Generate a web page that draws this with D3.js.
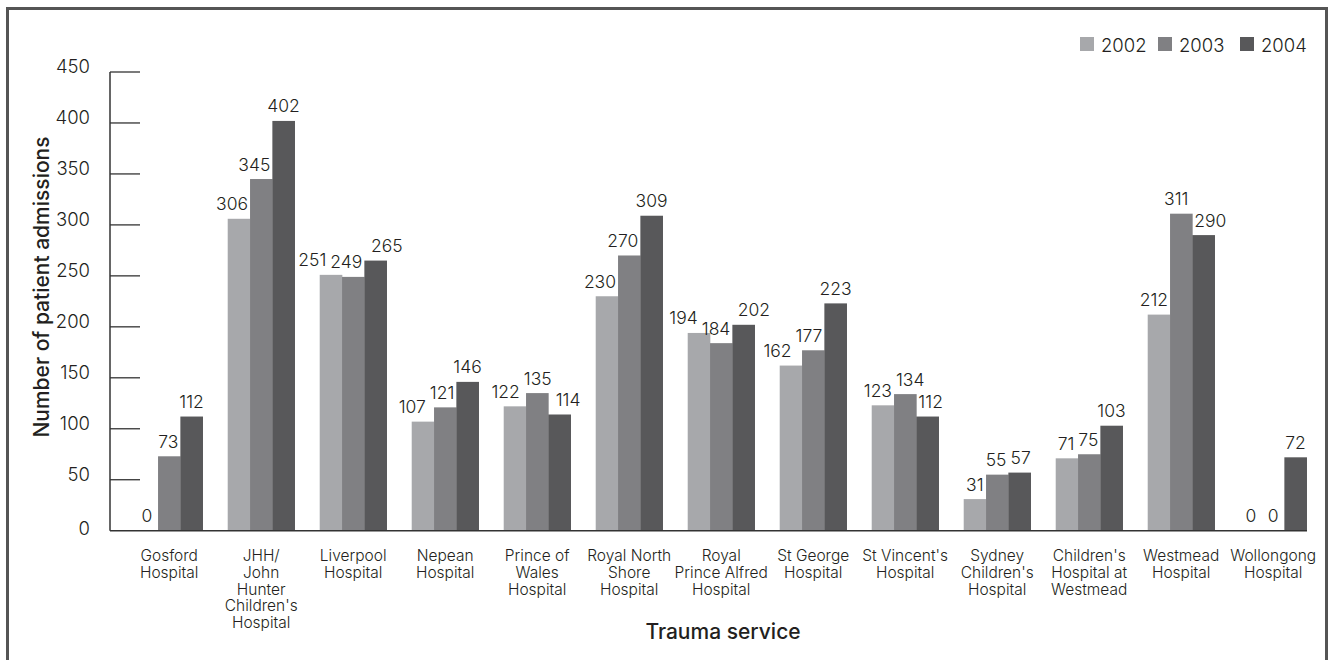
<!DOCTYPE html>
<html><head><meta charset="utf-8">
<script src="https://cdn.jsdelivr.net/npm/d3@7"></script>
<style>
body{margin:0;background:#fff;}
text{font-family:Inter,Roboto,"Liberation Sans",Arial,sans-serif;fill:#231f20;font-weight:300;}
</style></head>
<body>
<svg id="chart" width="1333" height="660"></svg>
<script>
const categories = [
  ["Gosford","Hospital"],
  ["JHH/","John","Hunter","Children's","Hospital"],
  ["Liverpool","Hospital"],
  ["Nepean","Hospital"],
  ["Prince of","Wales","Hospital"],
  ["Royal North","Shore","Hospital"],
  ["Royal","Prince Alfred","Hospital"],
  ["St George","Hospital"],
  ["St Vincent's","Hospital"],
  ["Sydney","Children's","Hospital"],
  ["Children's","Hospital at","Westmead"],
  ["Westmead","Hospital"],
  ["Wollongong","Hospital"]
];
const seriesNames = ["2002","2003","2004"];
const values2002 = [0,306,251,107,122,230,194,162,123,31,71,212,0];
const values2003 = [73,345,249,121,135,270,184,177,134,55,75,311,0];
const values2004 = [112,402,265,146,114,309,202,223,112,57,103,290,72];
const yTicks = [0,50,100,150,200,250,300,350,400,450];
const colors = ["#a7a8ab","#808083","#58585a"];

const series = [values2002, values2003, values2004];
const svg = d3.select("#chart");

// frame
svg.append("path")
  .attr("d","M7.5,670 L7.5,8.5 L1326.5,8.5 L1326.5,670")
  .attr("fill","none").attr("stroke","#555").attr("stroke-width",3);

const y = d3.scaleLinear().domain([0,450]).range([530.7,72]);
const x0 = d3.scaleBand().domain(d3.range(categories.length))
  .range([123.2,1319.2]).paddingInner(0.272).paddingOuter(0.136);
const x1 = d3.scaleBand().domain(d3.range(3)).range([0,x0.bandwidth()]);

// y axis
const axisX = 110;
svg.append("line").attr("x1",axisX).attr("x2",axisX).attr("y1",y(450)).attr("y2",y(0))
  .attr("stroke","#333").attr("stroke-width",1.5);
svg.selectAll(".tick").data(yTicks.filter(d=>d>0)).enter().append("line")
  .attr("x1",axisX).attr("x2",axisX+30).attr("y1",d=>y(d)).attr("y2",d=>y(d))
  .attr("stroke","#333").attr("stroke-width",1.3);
svg.selectAll(".tl").data(yTicks).enter().append("text")
  .attr("x",90).attr("y",d=>y(d)+ (d===0?4:1)).attr("text-anchor","end")
  .attr("font-size",18.5).text(d=>d);

// bars + value labels
const FS = 17.5;
categories.forEach((c,i)=>{
  const g = svg.append("g").attr("transform",`translate(${x0(i)},0)`);
  const labs = [];
  series.forEach((vals,j)=>{
    const v = vals[i];
    if(v>0){
      g.append("rect").attr("x",x1(j)).attr("width",x1.bandwidth()+0.3)
        .attr("y",y(v)).attr("height",y(0)-y(v)).attr("fill",colors[j]);
    }
    const t = g.append("text").attr("y",y(v)-8.5)
      .attr("text-anchor","middle").attr("font-size",FS).text(v);
    labs.push({t, cx:x1(j)+x1.bandwidth()/2, yb:y(v)-8.5, w:t.node().getComputedTextLength()});
  });
  // keep labels clear of taller neighbouring bars and of each other
  const bw = x1.bandwidth();
  const vals = series.map(s=>s[i]);
  for(let it=0; it<80; it++){
    for(let k=0;k<labs.length-1;k++){
      const a=labs[k], b=labs[k+1];
      if(Math.abs(a.yb-b.yb) < FS*1.25){
        const ov = (a.cx+a.w/2+4) - (b.cx-b.w/2);
        if(ov>0){ a.cx -= ov/2; b.cx += ov/2; }
      }
    }
    labs.forEach((l,k)=>{
      if(k>0 && y(vals[k-1]) < l.yb-4){
        const lim = x1(k-1) + bw + 2;
        if(l.cx - l.w/2 < lim) l.cx = lim + l.w/2;
      }
      if(k<2 && y(vals[k+1]) < l.yb-4){
        const lim = x1(k+1) - 2;
        if(l.cx + l.w/2 > lim) l.cx = lim - l.w/2;
      }
    });
  }
  labs.forEach(l=>l.t.attr("x",l.cx));

  const t = svg.append("text").attr("text-anchor","middle").attr("font-size",15.5)
    .attr("x",x0(i)+x0.bandwidth()/2).attr("y",561);
  c.forEach((ln,k)=>{
    t.append("tspan").attr("x",x0(i)+x0.bandwidth()/2).attr("y",561+k*16.8).text(ln);
  });
});

// x axis line
svg.append("line").attr("x1",axisX).attr("x2",1307).attr("y1",y(0)).attr("y2",y(0))
  .attr("stroke","#333").attr("stroke-width",1.5);

// axis titles
svg.append("text").attr("transform","translate(49,287) rotate(-90)")
  .attr("text-anchor","middle").attr("font-size",21).style("font-weight",500)
  .text("Number of patient admissions");
svg.append("text").attr("x",723).attr("y",639).attr("text-anchor","middle")
  .attr("font-size",21).style("font-weight",500).text("Trauma service");

// legend
const legX = [1080,1158,1240];
seriesNames.forEach((s,j)=>{
  svg.append("rect").attr("x",legX[j]).attr("y",37).attr("width",14).attr("height",14).attr("fill",colors[j]);
  svg.append("text").attr("x",legX[j]+21).attr("y",51.5).attr("font-size",18.5).text(s);
});
</script>
</body></html>
